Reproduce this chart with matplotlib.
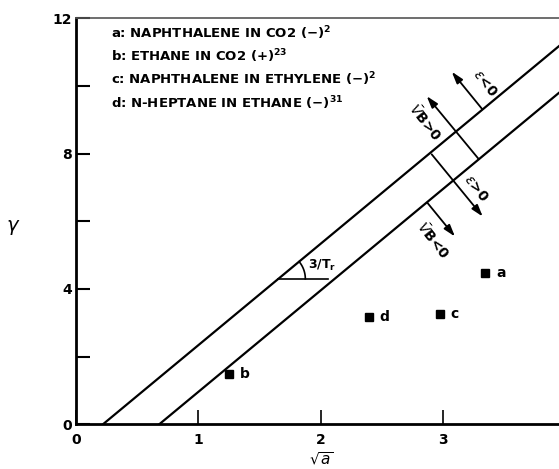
import matplotlib.pyplot as plt
import numpy as np

# points
point_labels = ['a', 'b', 'c', 'd']
sqrt_a = [3.34, 1.25, 2.97, 2.39]
gamma = [4.46, 1.49, 3.26, 3.18]

legend_lines = [
    'a: NAPHTHALENE IN CO2 (\u2212)$^{\\mathbf{2}}$',
    'b: ETHANE IN CO2 (+)$^{\\mathbf{23}}$',
    'c: NAPHTHALENE IN ETHYLENE (\u2212)$^{\\mathbf{2}}$',
    'd: N-HEPTANE IN ETHANE (\u2212)$^{\\mathbf{31}}$',
]

# boundary lines gamma = (3/Tr) * (sqrt(a) - x0)
slope = 3.0
x_intercepts = [0.22, 0.68]

# arrows: (start, tip) in data units, and their labels
arrows = [
    ((3.32, 9.31), (3.07, 10.42)),
    ((3.29, 7.84), (2.865, 9.70)),
    ((2.906, 7.98), (3.323, 6.14)),
    ((2.870, 6.55), (3.096, 5.55)),
]
arrow_texts = [r'$\epsilon$<0', r'$\bar{V}$B>0', r'$\epsilon$>0', r'$\bar{V}$B<0']
arrow_text_pos = [(3.34, 10.08), (2.85, 8.94), (3.27, 6.98), (2.92, 5.45)]

fig = plt.figure(figsize=(5.59, 4.69), dpi=100)
W, H = 559, 469
x_left, x_bot, y_top = 76, 424.3, 18.3
px_per_x = 122.4
ax = fig.add_axes([x_left / W, (H - x_bot) / H, 4.0 * px_per_x / W, (x_bot - y_top) / H])
ax.set_xlim(0, 4)
ax.set_ylim(0, 12)

for s in ['left', 'bottom']:
    ax.spines[s].set_linewidth(2)
ax.spines['top'].set_linewidth(1.2)
ax.spines['top'].set_color('#555555')
ax.spines['right'].set_visible(False)

ax.set_xticks([0, 1, 2, 3])
ax.set_yticks([0, 2, 4, 6, 8, 10, 12])
ax.set_yticklabels(['0', '', '4', '', '8', '', '12'])
ax.tick_params(direction='in', length=10, width=1.5, labelsize=10)
ax.tick_params(axis='x', pad=6, width=1.2)
ax.tick_params(axis='y', pad=3)
for lab in ax.get_xticklabels() + ax.get_yticklabels():
    lab.set_fontweight('bold')

fig.text(321 / W, 1 - 459 / H, r'$\sqrt{a}$', fontsize=11, ha='center', va='center')
fig.text(13 / W, 1 - 227 / H, r'$\gamma$', fontsize=14, ha='center', va='center')

# boundary lines
for x0 in x_intercepts:
    xs = np.array([x0, 4.0])
    ax.plot(xs, slope * (xs - x0), color='black', lw=1.6, clip_on=True)

# arrows
for (start, tip) in arrows:
    ax.annotate('', xy=tip, xytext=start,
                arrowprops=dict(arrowstyle='-|>,head_length=0.7,head_width=0.22',
                                color='black', lw=1.3, shrinkA=0, shrinkB=0))
for txt, pos in zip(arrow_texts, arrow_text_pos):
    ax.text(pos[0], pos[1], txt, rotation=-52, ha='center', va='center',
            fontsize=10, fontweight='bold')

# points
ax.plot(sqrt_a, gamma, 's', color='black', ms=6, clip_on=False)
for lab, x, y in zip(point_labels, sqrt_a, gamma):
    ax.annotate(lab, (x, y), xytext=(8, 0), textcoords='offset points',
                va='center', fontsize=10, fontweight='bold')

# angle mark 3/Tr on the upper line
vx = 1.653
vy = slope * (vx - x_intercepts[0])
ax.plot([vx, 2.06], [vy, vy], color='black', lw=1.2)
p0 = ax.transData.transform((0, 0))
p1 = ax.transData.transform((1, 1))
sx, sy = p1[0] - p0[0], p1[1] - p0[1]
ang = np.arctan(slope * sy / sx)
t = np.linspace(0, ang, 30)
r = 27
ax.plot(vx + r * np.cos(t) / sx, vy + r * np.sin(t) / sy, color='black', lw=1.2)
ax.text(vx + 30 / sx, vy + 13 / sy, r'3/T$_{\mathbf{r}}$', fontsize=9, fontweight='bold', va='center')

# legend text block
for i, line in enumerate(legend_lines):
    ax.text(0.29, 11.57 - i * 0.69, line, fontsize=9.5, fontweight='bold', va='center')

fig.savefig('out.png', dpi=100)
